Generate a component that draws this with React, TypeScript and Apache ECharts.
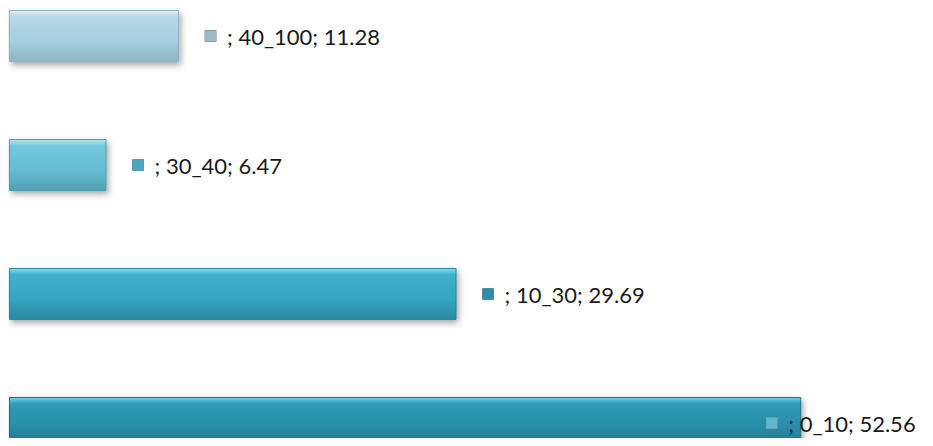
import React, { useEffect, useRef } from "react";
import * as echarts from "echarts";

const categories = ["0_10", "10_30", "30_40", "40_100"];
const values = [52.56, 29.69, 6.47, 11.28];
const labelTexts = ["; 0_10; 52.56", "; 10_30; 29.69", "; 30_40; 6.47", "; 40_100; 11.28"];

const barGradients = [
  ["#72d6ea", "#2e9cb7", "#288ca6", "#1f7188"],
  ["#86dcee", "#3db2ce", "#35a5c1", "#2a88a0"],
  ["#b4e6f2", "#74c8dd", "#66bdd4", "#4f9fb4"],
  ["#dff0f5", "#b5d9e6", "#a7cfdf", "#8db5c5"],
];
const markerColors = ["#5fb8cf", "#2f8ea7", "#4aa7c0", "#9bb9c5"];

const grad = (c: string[]) =>
  new echarts.graphic.LinearGradient(0, 0, 0, 1, [
    { offset: 0, color: c[0] },
    { offset: 0.12, color: c[1] },
    { offset: 0.6, color: c[2] },
    { offset: 1, color: c[3] },
  ]);

export default function App() {
  const ref = useRef<HTMLDivElement>(null);
  useEffect(() => {
    if (!ref.current) return;
    const chart = echarts.init(ref.current, undefined, { renderer: "svg" });
    chart.setOption({
      animation: false,
      grid: { left: 9, right: 0, top: 36, bottom: 23, containLabel: false },
      xAxis: { type: "value", min: 0, max: 61.3, show: false },
      yAxis: {
        type: "category",
        data: categories,
        boundaryGap: false,
        show: false,
      },
      series: [
        {
          type: "bar",
          barWidth: 52,
          clip: false,
          data: values.map((v, i) => ({
            value: v,
            itemStyle: {
              color: grad(barGradients[i]),
              borderColor: barGradients[i][3],
              borderWidth: 1,
              shadowColor: "rgba(0,0,0,0.35)",
              shadowBlur: 6,
              shadowOffsetX: 2,
              shadowOffsetY: 3,
            },
            label: {
              show: true,
              position: "right",
              distance: i === 0 ? -35 : 26,
              formatter: () => `{m|}{t|${labelTexts[i]}}`,
              rich: {
                m: {
                  width: 11,
                  height: 11,
                  backgroundColor: markerColors[i],
                  borderColor: "#6a8a96",
                  borderWidth: 0.5,
                },
                t: {
                  fontFamily: "Lato, 'Open Sans', sans-serif",
                  fontSize: 22,
                  color: "#1a1a1a",
                  padding: [0, 0, 0, 11],
                },
              },
            },
          })),
        },
      ],
    });
    return () => chart.dispose();
  }, []);
  return <div ref={ref} style={{ width: 933, height: 446, margin: -8 }} />;
}
